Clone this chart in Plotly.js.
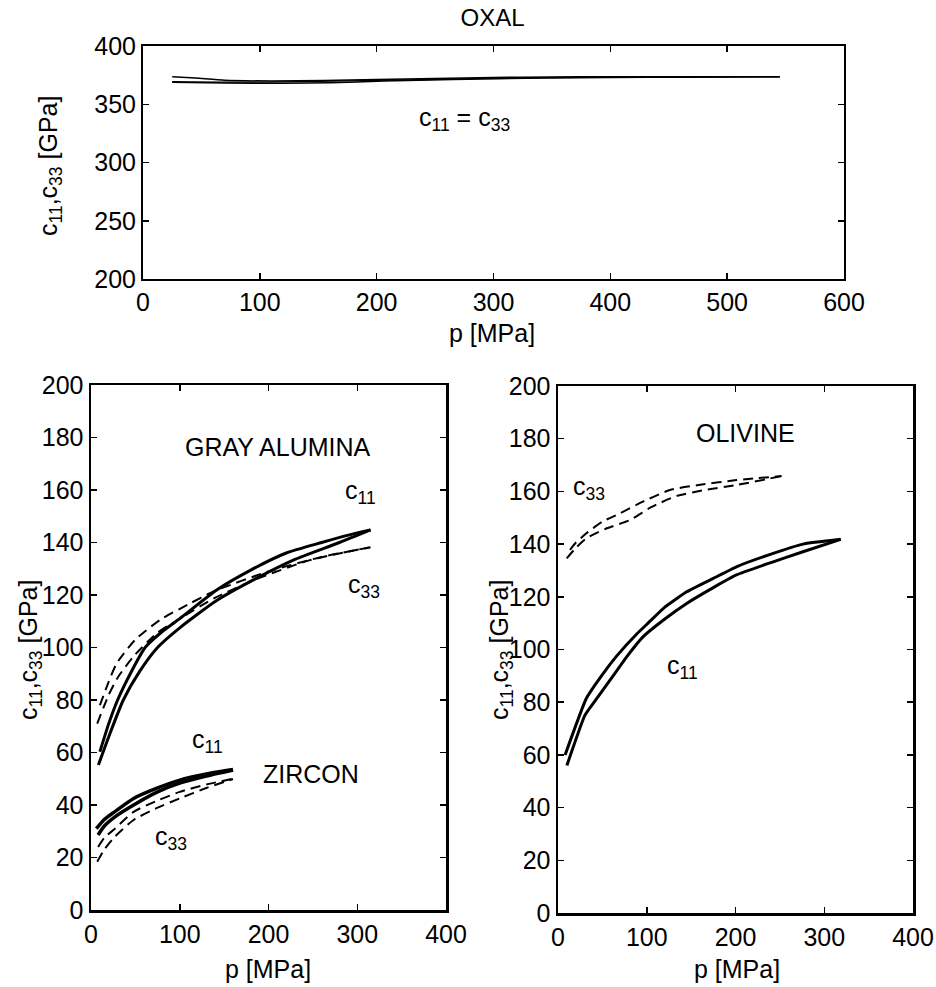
<!DOCTYPE html>
<html>
<head>
<meta charset="utf-8">
<script src="https://cdn.plot.ly/plotly-3.0.1.min.js"></script>
<style>html,body{margin:0;padding:0;background:#fff;}#chart{width:936px;height:987px;}</style>
</head>
<body>
<div id="chart"></div>
<script>
// ---------- OXAL (top) ----------
var oxalP_a = [25, 45, 70, 110, 155, 200, 250, 300, 350, 400, 450, 500, 545];
var oxalC_a = [373.7, 372.5, 370.5, 370.0, 370.3, 371.2, 372.2, 373.0, 373.4, 373.6, 373.7, 373.7, 373.7];
var oxalP_b = [25, 70, 120, 160, 206, 265, 343, 400, 461, 545];
var oxalC_b = [368.8, 368.3, 368.0, 368.4, 370.0, 371.3, 372.6, 373.0, 373.2, 373.7];
var oxalP_c = [25, 100, 200, 300, 400, 545];
var oxalC_c = [369.5, 369.0, 370.5, 372.3, 373.2, 373.7];

// ---------- GRAY ALUMINA ----------
var gaC11P_a = [10, 20, 30, 45, 61, 80, 100, 142, 180, 220, 260, 290, 315];
var gaC11_a  = [60.3, 71, 80, 90.5, 100, 106, 111, 122, 129.5, 136, 140, 142.8, 144.8];
var gaC11P_b = [8.3, 20, 36.4, 55, 75, 100, 142, 190, 228, 280, 315];
var gaC11_b  = [55.2, 66, 80, 91, 100, 107.5, 118, 127, 133.3, 140, 144.8];
var gaC33P_a = [10, 20, 29, 50, 77.7, 110, 137.8, 200, 260, 315];
var gaC33_a  = [78, 87, 94, 103, 110.5, 116.5, 121.3, 129, 134.5, 138.2];
var gaC33P_b = [7, 20, 30, 47.7, 74, 100, 140, 190, 246.8, 315];
var gaC33_b  = [71, 82, 88.5, 96.5, 105.4, 111, 119, 126.5, 133.3, 138.2];

// ---------- ZIRCON ----------
var zrC11P_a = [6, 15, 27, 48, 75, 100, 130, 160];
var zrC11_a  = [31, 34.5, 37.5, 42.5, 46.5, 49.5, 51.8, 53.5];
var zrC11P_b = [8, 15, 27, 48, 75, 100, 130, 160];
var zrC11_b  = [28.6, 32, 35.5, 40, 45, 48.3, 51, 53.3];
var zrC33P_a = [8, 15, 27, 48, 75, 100, 130, 160];
var zrC33_a  = [24, 27.5, 31, 37.4, 41.7, 45, 47.8, 50];
var zrC33P_b = [7, 15, 27, 48, 75, 100, 130, 160];
var zrC33_b  = [18.4, 23, 28, 34.3, 39, 42.5, 46.5, 49.9];

// ---------- OLIVINE ----------
var olC11P_a = [8, 32, 50, 66, 89, 100, 120, 145, 175, 201, 240, 276, 318.5];
var olC11_a  = [60, 81.5, 90.5, 97.5, 106, 109.5, 116, 121.9, 127, 131.4, 136.2, 140, 141.8];
var olC11P_b = [10, 30.4, 45, 60, 78, 96, 120, 145, 175, 201, 240, 276, 318.5];
var olC11_b  = [56, 75.1, 82, 89, 97.5, 104.9, 111.5, 117.5, 123.5, 128.3, 133, 137.1, 141.8];
var olC33P_a = [13.5, 20, 32, 50, 70, 95, 126, 160, 201, 252];
var olC33_a  = [137.8, 140.5, 144.1, 148.5, 151.7, 156, 160.5, 162.5, 164.3, 165.8];
var olC33P_b = [9.8, 20, 32, 55, 81, 105, 134, 165, 201, 252];
var olC33_b  = [134.6, 138.5, 142.2, 146, 149.1, 154, 158.3, 160.5, 162.4, 165.8];

// ---------- tick values ----------
var topXTicks = [0, 100, 200, 300, 400, 500, 600];
var topYTicks = [200, 250, 300, 350, 400];
var botXTicks = [0, 100, 200, 300, 400];
var botYTicks = [0, 20, 40, 60, 80, 100, 120, 140, 160, 180, 200];

function tr(x, y, ax, dash, w, smooth) {
  return {
    x: x, y: y, xaxis: 'x' + ax, yaxis: 'y' + ax, type: 'scatter', mode: 'lines',
    line: {color: '#000', width: w, dash: dash ? '10px,6px' : 'solid', shape: 'spline',
      smoothing: smooth === undefined ? 0.6 : smooth},
    hoverinfo: 'skip', showlegend: false
  };
}

var data = [
  tr(oxalP_a, oxalC_a, '', false, 1.5),
  tr(oxalP_b, oxalC_b, '', false, 1.5),
  tr(oxalP_c, oxalC_c, '', false, 1.2),
  tr(gaC11P_a, gaC11_a, '2', false, 3),
  tr(gaC11P_b, gaC11_b, '2', false, 3),
  tr(gaC33P_a, gaC33_a, '2', true, 2),
  tr(gaC33P_b, gaC33_b, '2', true, 2),
  tr(zrC11P_a, zrC11_a, '2', false, 3.5),
  tr(zrC11P_b, zrC11_b, '2', false, 3.5),
  tr(zrC33P_a, zrC33_a, '2', true, 2),
  tr(zrC33P_b, zrC33_b, '2', true, 2),
  tr(olC11P_a, olC11_a, '3', false, 3, 0.4),
  tr(olC11P_b, olC11_b, '3', false, 3, 0.4),
  tr(olC33P_a, olC33_a, '3', true, 2),
  tr(olC33P_b, olC33_b, '3', true, 2)
];

var FONT = 'Liberation Sans, Arial, Helvetica, sans-serif';
var FS = 25;
function axis(domain, range, ticks, anchor, lw) {
  return {
    domain: domain, range: range, anchor: anchor, tickmode: 'array', tickvals: ticks,
    ticktext: ticks.map(String), ticks: 'inside', ticklen: 6, tickwidth: 1.5, tickcolor: '#000',
    showline: true, linecolor: '#000', linewidth: lw, mirror: 'ticks',
    showgrid: false, zeroline: false, fixedrange: true,
    tickfont: {family: FONT, size: FS, color: '#000'}
  };
}

function ann(text, x, y, xref, yref, extra) {
  var a = {text: text, x: x, y: y, xref: xref, yref: yref, showarrow: false,
    xanchor: 'center', yanchor: 'middle', font: {family: FONT, size: FS, color: '#000'}};
  for (var k in extra) a[k] = extra[k];
  return a;
}
var YT = 'c<sub>11</sub>,c<sub>33</sub> [GPa]';

var layout = {
  width: 936, height: 987, margin: {l: 0, r: 0, t: 0, b: 0},
  paper_bgcolor: '#fff', plot_bgcolor: '#fff', showlegend: false, hovermode: false,
  font: {family: FONT, size: FS, color: '#000'},
  title: {text: 'OXAL', x: 492.5 / 936, y: 1 - 18 / 987, xanchor: 'center', yanchor: 'middle',
    xref: 'paper', yref: 'paper', font: {family: FONT, size: 24, color: '#000'}},
  xaxis: axis([143 / 936, 844 / 936], [0, 600], topXTicks, 'y', 2),
  yaxis: axis([1 - 279 / 987, 1 - 46 / 987], [200, 400], topYTicks, 'x', 2),
  xaxis2: axis([91 / 936, 446 / 936], [0, 400], botXTicks, 'y2', 2.5),
  yaxis2: axis([1 - 910 / 987, 1 - 385 / 987], [0, 200], botYTicks, 'x2', 2.5),
  xaxis3: axis([558 / 936, 913 / 936], [0, 400], botXTicks, 'y3', 2.5),
  yaxis3: axis([1 - 913 / 987, 1 - 386 / 987], [0, 200], botYTicks, 'x3', 2.5),
  annotations: [
    ann('p [MPa]', 492 / 936, 1 - 333 / 987, 'paper', 'paper'),
    ann('p [MPa]', 267.5 / 936, 1 - 969 / 987, 'paper', 'paper'),
    ann('p [MPa]', 737 / 936, 1 - 969 / 987, 'paper', 'paper'),
    ann(YT, 50 / 936, 1 - 166 / 987, 'paper', 'paper', {textangle: -90}),
    ann(YT, 30 / 936, 1 - 650 / 987, 'paper', 'paper', {textangle: -90}),
    ann(YT, 501 / 936, 1 - 650 / 987, 'paper', 'paper', {textangle: -90}),
    ann('c<sub>11</sub> = c<sub>33</sub>', 275, 337.5, 'x', 'y'),
    ann('GRAY ALUMINA', 210.7, 176.2, 'x2', 'y2'),
    ann('c<sub>11</sub>', 304, 159.3, 'x2', 'y2'),
    ann('c<sub>33</sub>', 308, 123.6, 'x2', 'y2'),
    ann('c<sub>11</sub>', 131, 64.3, 'x2', 'y2'),
    ann('ZIRCON', 248, 52, 'x2', 'y2'),
    ann('c<sub>33</sub>', 90, 27.6, 'x2', 'y2'),
    ann('OLIVINE', 210.7, 182.2, 'x3', 'y3'),
    ann('c<sub>33</sub>', 35, 161.3, 'x3', 'y3'),
    ann('c<sub>11</sub>', 140, 93.4, 'x3', 'y3')
  ]
};

Plotly.newPlot('chart', data, layout, {staticPlot: true, displayModeBar: false});
</script>
</body>
</html>
